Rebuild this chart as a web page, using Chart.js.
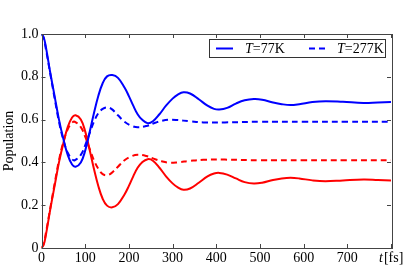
<!DOCTYPE html>
<html>
<head>
<meta charset="utf-8">
<script src="https://cdn.jsdelivr.net/npm/chart.js@4.4.1/dist/chart.umd.min.js"></script>
<style>
  html, body { margin: 0; padding: 0; background: #fff; }
</style>
</head>
<body>
<canvas id="popChart" width="415" height="277"></canvas>
<script>
// time axis in fs
const times = [0, 5, 10, 20, 30, 40, 50, 60, 70, 78, 90, 100, 110, 120, 130, 140, 150, 162, 175, 190,
  200, 210, 220, 230, 243, 255, 270, 285, 300, 312, 325, 340, 360, 380, 395, 407, 425, 445, 465, 486,
  505, 530, 550, 570, 590, 620, 650, 690, 737, 770, 800];

// T = 77K
const blue77 = [1.0, 0.985, 0.94, 0.82, 0.71, 0.60, 0.51, 0.435, 0.39, 0.38, 0.40, 0.455, 0.54, 0.63, 0.71, 0.77, 0.802, 0.808, 0.795, 0.75,
  0.71, 0.665, 0.625, 0.60, 0.583, 0.592, 0.625, 0.665, 0.698, 0.717, 0.728, 0.722, 0.695, 0.665, 0.65, 0.647, 0.655, 0.675, 0.69, 0.696,
  0.693, 0.68, 0.672, 0.668, 0.672, 0.682, 0.686, 0.683, 0.678, 0.68, 0.682];
const red77 = [0, 0.015, 0.06, 0.18, 0.29, 0.40, 0.49, 0.565, 0.61, 0.62, 0.60, 0.545, 0.46, 0.37, 0.29, 0.23, 0.198, 0.19, 0.205, 0.25,
  0.29, 0.335, 0.375, 0.40, 0.415, 0.408, 0.375, 0.335, 0.302, 0.283, 0.272, 0.278, 0.305, 0.335, 0.348, 0.351, 0.343, 0.325, 0.308, 0.301,
  0.305, 0.318, 0.325, 0.328, 0.325, 0.316, 0.312, 0.316, 0.32, 0.318, 0.316];

// T = 277K
const times277 = [0, 5, 10, 20, 30, 40, 50, 60, 70, 76, 90, 100, 110, 120, 130, 140, 150, 160, 175, 190,
  205, 220, 240, 260, 275, 290, 310, 340, 370, 420, 500, 600, 700, 800];
const blue277 = [1.0, 0.98, 0.93, 0.815, 0.70, 0.59, 0.505, 0.445, 0.415, 0.41, 0.435, 0.48, 0.535, 0.59, 0.63, 0.65, 0.657, 0.65, 0.62, 0.59,
  0.572, 0.564, 0.57, 0.585, 0.594, 0.599, 0.598, 0.592, 0.587, 0.587, 0.59, 0.59, 0.59, 0.59];
const red277 = [0, 0.02, 0.07, 0.185, 0.30, 0.41, 0.495, 0.555, 0.585, 0.59, 0.565, 0.52, 0.465, 0.41, 0.37, 0.345, 0.34, 0.35, 0.38, 0.41,
  0.428, 0.436, 0.43, 0.415, 0.405, 0.399, 0.40, 0.407, 0.412, 0.413, 0.41, 0.41, 0.41, 0.41];

const xTicks = [0, 100, 200, 300, 400, 500, 600, 700, 800];
const yTicks = [0, 0.2, 0.4, 0.6, 0.8, 1.0];

const serif = "'Liberation Serif', 'DejaVu Serif', serif";

function pts(xs, ys) {
  return xs.map((x, i) => ({ x: x, y: ys[i] }));
}

// frame, inward ticks, legend and labels
const framePlugin = {
  id: "frame",
  afterDraw(chart) {
    const c = chart.ctx;
    const a = chart.chartArea;
    const xs = chart.scales.x;
    const ys = chart.scales.y;
    c.save();
    c.strokeStyle = "#444";
    c.lineWidth = 1;
    c.strokeRect(Math.round(a.left) + 0.5, Math.round(a.top) + 0.5,
      Math.round(a.right - a.left), Math.round(a.bottom - a.top));
    c.beginPath();
    xTicks.forEach((v) => {
      const px = Math.round(xs.getPixelForValue(v)) + 0.5;
      c.moveTo(px, a.bottom); c.lineTo(px, a.bottom - 4);
      c.moveTo(px, a.top); c.lineTo(px, a.top + 4);
    });
    yTicks.forEach((v) => {
      const py = Math.round(ys.getPixelForValue(v)) + 0.5;
      c.moveTo(a.left, py); c.lineTo(a.left + 4, py);
      c.moveTo(a.right, py); c.lineTo(a.right - 4, py);
    });
    c.stroke();

    // y title
    c.fillStyle = "#000";
    c.font = "14px " + serif;
    c.textAlign = "center";
    c.textBaseline = "middle";
    c.translate(9, (a.top + a.bottom) / 2);
    c.rotate(-Math.PI / 2);
    c.fillText("Population", 0, 0);
    c.setTransform(1, 0, 0, 1, 0, 0);

    // x label where 800 would be
    c.textAlign = "left";
    c.textBaseline = "alphabetic";
    c.font = "italic 14px " + serif;
    c.fillText("t", 379, 262);
    const tw = c.measureText("t").width;
    c.font = "14px " + serif;
    c.fillText("[fs]", 379 + tw + 1, 262);

    // legend
    c.fillStyle = "#fff";
    c.fillRect(209.5, 39.5, 176, 18);
    c.strokeStyle = "#333";
    c.strokeRect(209.5, 39.5, 176, 18);
    c.strokeStyle = "#0000ff";
    c.lineWidth = 2;
    c.beginPath(); c.moveTo(216, 48.5); c.lineTo(233, 48.5); c.stroke();
    c.setLineDash([6, 4]);
    c.beginPath(); c.moveTo(309, 48.5); c.lineTo(325, 48.5); c.stroke();
    c.setLineDash([]);
    c.fillStyle = "#000";
    c.textBaseline = "middle";
    [["=77K", 245], ["=277K", 337]].forEach(([s, x]) => {
      c.font = "italic 14px " + serif;
      c.fillText("T", x, 49);
      const w = c.measureText("T").width;
      c.font = "14px " + serif;
      c.fillText(s, x + w, 49);
    });
    c.restore();
  },
};

const ctx = document.getElementById("popChart").getContext("2d");
const myChart = new Chart(ctx, {
  type: "line",
  data: {
    datasets: [
      { data: pts(times, blue77), borderColor: "#0000ff", borderWidth: 2 },
      { data: pts(times, red77), borderColor: "#ff0000", borderWidth: 2 },
      { data: pts(times277, blue277), borderColor: "#0000ff", borderWidth: 2, borderDash: [6, 4] },
      { data: pts(times277, red277), borderColor: "#ff0000", borderWidth: 2, borderDash: [6, 4] },
    ],
  },
  options: {
    responsive: false,
    animation: false,
    devicePixelRatio: 1,
    layout: { padding: { top: 34, right: 24, left: 0, bottom: 0 } },
    elements: {
      point: { radius: 0 },
      line: { tension: 0.4, fill: false },
    },
    plugins: {
      legend: { display: false },
      tooltip: { enabled: false },
    },
    scales: {
      x: {
        type: "linear",
        min: 0,
        max: 800,
        grid: { display: false, drawTicks: false },
        border: { display: false },
        afterFit: (scale) => { scale.height = 29; },
        afterBuildTicks: (scale) => { scale.ticks = xTicks.map((v) => ({ value: v })); },
        ticks: {
          color: "#000",
          padding: 2,
          maxRotation: 0,
          font: { family: serif, size: 14 },
          callback: (v) => (v === 800 ? "" : String(v)),
        },
      },
      y: {
        min: 0,
        max: 1,
        grid: { display: false, drawTicks: false },
        border: { display: false },
        afterFit: (scale) => { scale.width = 41.5; },
        afterBuildTicks: (scale) => { scale.ticks = yTicks.map((v) => ({ value: v })); },
        ticks: {
          color: "#000",
          padding: 3,
          font: { family: serif, size: 14 },
          callback: (v) => (v === 0 ? "0" : v.toFixed(1)),
        },
      },
    },
  },
  plugins: [framePlugin],
});
</script>
</body>
</html>
